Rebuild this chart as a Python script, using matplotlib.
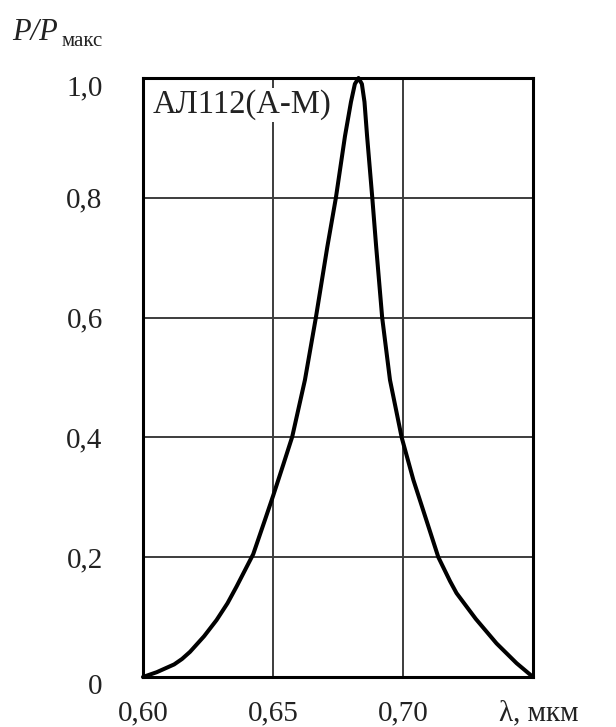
"""
Relative emission spectrum of the АЛ112(А-М) LED: P/Pмакс against wavelength.
Saves out.png (616x727 px).
"""

import os

os.environ.setdefault("MPLBACKEND", "Agg")

import matplotlib.pyplot as plt
import matplotlib.transforms as mtransforms

# wavelength, мкм  /  relative power
wavelength = [0.6000, 0.6053, 0.6120, 0.6150, 0.6181, 0.6235, 0.6283, 0.6325,
              0.6360, 0.6424, 0.6469, 0.6501, 0.6540, 0.6574, 0.6623, 0.6665,
              0.6709, 0.6742, 0.6777, 0.6800, 0.6815, 0.6829, 0.6842, 0.6852,
              0.6862, 0.6882, 0.6897, 0.6920, 0.6950, 0.6995, 0.7040, 0.7081,
              0.7136, 0.7181, 0.7206, 0.7280, 0.7360, 0.7437, 0.7500]
power = [0.000, 0.008, 0.021, 0.030, 0.042, 0.068, 0.095, 0.123,
         0.151, 0.205, 0.262, 0.303, 0.355, 0.401, 0.496, 0.600,
         0.718, 0.800, 0.903, 0.960, 0.990, 1.000, 0.990, 0.960,
         0.903, 0.800, 0.718, 0.600, 0.496, 0.400, 0.329, 0.274,
         0.200, 0.160, 0.140, 0.097, 0.056, 0.023, 0.000]

x_ticks = [0.60, 0.65, 0.70, 0.75]
x_labels = ["0,60", "0,65", "0,70", "λ, мкм"]
y_ticks = [0.0, 0.2, 0.4, 0.6, 0.8, 1.0]
y_labels = ["0", "0,2", "0,4", "0,6", "0,8", "1,0"]
device = "АЛ112(А-М)"

SERIF = ["Liberation Serif", "DejaVu Serif"]
plt.rcParams["font.family"] = SERIF

fig = plt.figure(figsize=(6.16, 7.27), dpi=100)
ax = fig.add_axes([0.2321, 0.0688, 0.6331, 0.8239])

ax.plot(wavelength, power, color="black", lw=2.9, solid_joinstyle="round",
        solid_capstyle="round", clip_on=False, zorder=4)

ax.set_xlim(0.60, 0.75)
ax.set_ylim(0.0, 1.0)
ax.set_xticks(x_ticks)
ax.set_xticklabels(x_labels)
ax.set_yticks(y_ticks)
ax.set_yticklabels(y_labels)
ax.tick_params(length=0, labelsize=21, labelcolor="#222222")
ax.tick_params(axis="x", pad=17)
ax.tick_params(axis="y", pad=29)

# "0" and "1,0" sit a little below their grid lines in the original
for lab in (ax.get_yticklabels()[0], ax.get_yticklabels()[-1]):
    lab.set_transform(lab.get_transform() +
                      mtransforms.ScaledTranslation(0, -5 / 72, fig.dpi_scale_trans))
xl = ax.get_xticklabels()[-1]
xl.set_transform(xl.get_transform() +
                 mtransforms.ScaledTranslation(4 / 72, 0, fig.dpi_scale_trans))

ax.grid(True, color="#3c3c3c", lw=1.4)
ax.set_axisbelow(True)
for sp in ax.spines.values():
    sp.set_linewidth(2.2)
    sp.set_color("black")

ax.text(0.6036, 0.955, device, fontsize=23.5, color="#222222", ha="left",
        va="center", zorder=3,
        bbox=dict(facecolor="white", edgecolor="none", pad=1.5))

# axis title P/Pмакс at the top left
fig.text(12 / 616, 1 - 40 / 727, "P/P", fontsize=22, style="italic",
         color="#222222", ha="left", va="baseline")
fig.text(62 / 616, 1 - 46 / 727, "макс", fontsize=15, color="#222222",
         ha="left", va="baseline")

fig.savefig("out.png", dpi=100)
plt.close(fig)
